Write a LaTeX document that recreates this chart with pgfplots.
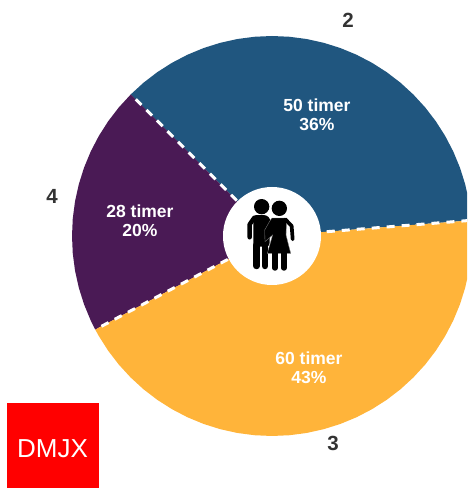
\documentclass[border=0pt]{standalone}
\usepackage{fontspec}
\setmainfont{Liberation Sans}
\usepackage{pgfplots}
\usepgfplotslibrary{polar}
\pgfplotsset{compat=1.18}
\definecolor{cblue}{HTML}{20567F}
\definecolor{cpurple}{HTML}{4A1A55}
\definecolor{cyellow}{HTML}{FFB43A}
\definecolor{cred}{HTML}{FF0000}
\definecolor{cdark}{HTML}{333333}
\begin{document}
\begin{tikzpicture}
\begin{axis}[
  scale only axis, width=467pt, height=488pt,
  xmin=-272, xmax=195, ymin=-252, ymax=236,
  hide axis, clip=true,
  every node/.append style={inner sep=0pt, outer sep=0pt},
]
\path (axis cs:-272,-252) rectangle (axis cs:195,236);
% shares 50, 28, 60 hours, wedges as (angle, radius)
\addplot[fill=cblue, draw=none, data cs=polar] coordinates {
 (4.5,0) (4.5,200) (10,200) (15,200) (20,200) (25,200) (30,200) (35,200) (40,200) (45,200)
 (50,200) (55,200) (60,200) (65,200) (70,200) (75,200) (80,200) (85,200) (90,200) (95,200)
 (100,200) (105,200) (110,200) (115,200) (120,200) (125,200) (130,200) (134.9,200) (134.9,0)};
\addplot[fill=cpurple, draw=none, data cs=polar] coordinates {
 (134.9,0) (134.9,200) (140,200) (145,200) (150,200) (155,200) (160,200) (165,200) (170,200)
 (175,200) (180,200) (185,200) (190,200) (195,200) (200,200) (205,200) (207.9,200) (207.9,0)};
\addplot[fill=cyellow, draw=none, data cs=polar] coordinates {
 (207.9,0) (207.9,200) (210,200) (215,200) (220,200) (225,200) (230,200) (235,200) (240,200)
 (245,200) (250,200) (255,200) (260,200) (265,200) (270,200) (275,200) (280,200) (285,200)
 (290,200) (295,200) (300,200) (305,200) (310,200) (315,200) (320,200) (325,200) (330,200)
 (335,200) (340,200) (345,200) (350,200) (355,200) (360,200) (364.5,200) (364.5,0)};
% dashed separators
\addplot[white, line width=3pt, dash pattern=on 8pt off 7pt, data cs=polar] coordinates {(4.5,198) (4.5,45)};
\addplot[white, line width=3pt, dash pattern=on 8pt off 7pt, data cs=polar] coordinates {(134.9,193) (134.9,45)};
\addplot[white, line width=3pt, dash pattern=on 8pt off 7pt, data cs=polar] coordinates {(207.9,193) (207.9,45)};
% hole
\fill[white] (axis cs:0,0) circle[radius=49pt];
% couple icon
\begin{scope}[shift={(axis cs:0,0)}, x=0.3333pt, y=-0.3333pt, shift={(-186,-168)}]
  \fill[black] (155,80) circle[radius=23];
  \fill[black,rounded corners=3pt] (130,105) -- (170,105) -- (182,118) -- (178,200) -- (130,200) -- cycle;
  \draw[black,line width=4.4pt,line cap=round,line join=round] (133,113) -- (119,133) -- (119,172);
  \draw[black,line width=6.5pt,line cap=round] (140,195) -- (140,258);
  \draw[black,line width=6.5pt,line cap=round] (165,195) -- (165,258);
  \fill[black] (208,85) circle[radius=23];
  \draw[gray,line width=0.35pt,fill=black] (180,122) -- (186,114) -- (230,114) -- (228,165) -- (242,220) -- (172,220) -- (188,165) -- (165,185) -- (164,150) -- cycle;
  \draw[black,line width=3.7pt,line cap=round,line join=round] (226,118) -- (245,138) -- (248,178);
  \draw[black,line width=5.4pt,line cap=round] (195,215) -- (195,264);
  \draw[black,line width=5.4pt,line cap=round] (222,215) -- (222,264);
\end{scope}
% labels
\tikzset{inl/.style={white,align=center,font=\fontsize{17.5}{19}\selectfont\bfseries}}
\node[inl] at (axis cs:45,121.5) {50 timer\\36\%};
\node[inl] at (axis cs:-132,15.5) {28 timer\\20\%};
\node[inl] at (axis cs:37,-131.5) {60 timer\\43\%};
\node[cdark] at (axis cs:76,216) {\fontsize{20.5}{24}\selectfont\bfseries 2};
\node[cdark] at (axis cs:61,-207) {\fontsize{20.5}{24}\selectfont\bfseries 3};
\node[cdark] at (axis cs:-220,40) {\fontsize{20.5}{24}\selectfont\bfseries 4};
% logo
\fill[cred] (axis cs:-265,-252) rectangle (axis cs:-173,-167.3);
\node[white] at (axis cs:-219.5,-213) {\fontsize{26}{30}\selectfont DMJX};
\end{axis}
\end{tikzpicture}
\end{document}
